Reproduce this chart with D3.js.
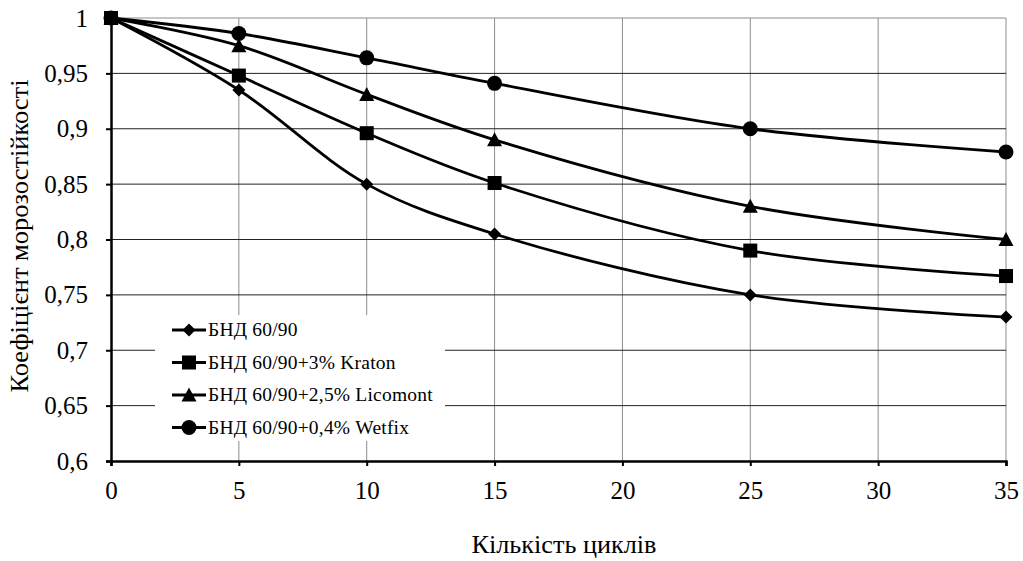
<!DOCTYPE html>
<html>
<head>
<meta charset="utf-8">
<script src="https://cdn.jsdelivr.net/npm/d3@7"></script>
<style>
    body { margin: 0; background: #fff; }
</style>
</head>
<body>
<svg width="1023" height="561"></svg>
<script>
// дані з графіка
const cycles = [0, 5, 10, 15, 25, 35];
const xTicks = [0, 5, 10, 15, 20, 25, 30, 35];
const yTicks = [0.6, 0.65, 0.7, 0.75, 0.8, 0.85, 0.9, 0.95, 1];
const seriesNames = ["БНД 60/90", "БНД 60/90+3% Kraton", "БНД 60/90+2,5% Licomont", "БНД 60/90+0,4% Wetfix"];
const bnd = [1, 0.935, 0.85, 0.805, 0.75, 0.73];
const kraton = [1, 0.948, 0.896, 0.851, 0.79, 0.767];
const licomont = [1, 0.975, 0.931, 0.89, 0.83, 0.80];
const wetfix = [1, 0.986, 0.964, 0.941, 0.90, 0.879];
const markers = ["diamond", "square", "triangle", "circle"];

const FONT = "'Liberation Serif', 'Times New Roman', serif";

const svg = d3.select("svg");
const margin = {left: 111, right: 17, top: 18, bottom: 100};
const width = +svg.attr("width"), height = +svg.attr("height");

const x = d3.scaleLinear().domain([0, 35]).range([margin.left, width - margin.right]);
const y = d3.scaleLinear().domain([0.6, 1]).range([height - margin.bottom, margin.top]);

const fmt = d => String(+d.toFixed(2)).replace(".", ",");

// сітка
svg.append("g")
    .selectAll("line")
    .data(xTicks.slice(1))
    .join("line")
    .attr("x1", d => x(d)).attr("x2", d => x(d))
    .attr("y1", y(0.6)).attr("y2", y(1))
    .attr("stroke", "#8c8c8c").attr("stroke-width", 1);

svg.append("g")
    .selectAll("line")
    .data(yTicks.slice(1))
    .join("line")
    .attr("x1", x(0)).attr("x2", x(35))
    .attr("y1", d => y(d)).attr("y2", d => y(d))
    .attr("stroke", d => d === 1 ? "#8c8c8c" : "#222").attr("stroke-width", 1);

// осі
const xAxis = svg.append("g")
    .attr("transform", `translate(0,${y(0.6)})`)
    .call(d3.axisBottom(x).tickValues(xTicks).tickSize(5).tickPadding(15).tickFormat(d => d));
const yAxis = svg.append("g")
    .attr("transform", `translate(${x(0)},0)`)
    .call(d3.axisLeft(y).tickValues(yTicks).tickSize(5).tickPadding(18).tickFormat(fmt));

[xAxis, yAxis].forEach(a => {
    a.attr("font-family", null).attr("font-size", null);
    a.select(".domain").attr("stroke", "#000").attr("stroke-width", 2.5);
    a.selectAll(".tick line").attr("stroke", "#000").attr("stroke-width", 2);
    a.selectAll("text").style("font-family", FONT).style("font-size", "25px");
});

svg.append("text")
    .attr("x", 564).attr("y", 553)
    .attr("text-anchor", "middle")
    .attr("textLength", 185).attr("lengthAdjust", "spacingAndGlyphs")
    .style("font-family", FONT)
    .style("font-size", "25px")
    .text("Кількість циклів");

svg.append("text")
    .attr("transform", "translate(28,236) rotate(-90)")
    .attr("text-anchor", "middle")
    .attr("textLength", 313).attr("lengthAdjust", "spacingAndGlyphs")
    .style("font-family", FONT)
    .style("font-size", "25px")
    .text("Коефіцієнт морозостійкості");

// маркери
function drawMarker(g, type) {
    if (type === "diamond") {
        g.append("path").attr("d", "M0,-6.5L6.5,0L0,6.5L-6.5,0Z");
    } else if (type === "square") {
        g.append("rect").attr("x", -7).attr("y", -7).attr("width", 14).attr("height", 14);
    } else if (type === "triangle") {
        g.append("path").attr("d", "M0,-7.5L7.5,6.5L-7.5,6.5Z");
    } else {
        g.append("circle").attr("r", 7.5);
    }
    g.attr("fill", "#000");
}

const data = [bnd, kraton, licomont, wetfix];
const line = d3.line()
    .x((d, i) => x(cycles[i]))
    .y(d => y(d))
    .curve(d3.curveCatmullRom.alpha(0.5));

data.forEach((vals, k) => {
    svg.append("path")
        .attr("d", line(vals))
        .attr("fill", "none")
        .attr("stroke", "#000")
        .attr("stroke-width", 2.8);
    vals.forEach((v, i) => {
        const g = svg.append("g").attr("transform", `translate(${x(cycles[i])},${y(v)})`);
        drawMarker(g, markers[k]);
    });
});

// легенда
const legend = svg.append("g").attr("transform", "translate(155,315)");
legend.append("rect")
    .attr("width", 290).attr("height", 126)
    .attr("fill", "#fff");
seriesNames.forEach((name, k) => {
    const ly = 15 + k * 32.5;
    legend.append("line")
        .attr("x1", 17).attr("x2", 51)
        .attr("y1", ly).attr("y2", ly)
        .attr("stroke", "#000").attr("stroke-width", 2.8);
    const g = legend.append("g").attr("transform", `translate(34,${ly})`);
    drawMarker(g, markers[k]);
    legend.append("text")
        .attr("x", 53).attr("y", ly + 6)
        .style("font-family", FONT)
        .style("font-size", "19.5px")
        .style("letter-spacing", "0.2px")
        .text(name);
});
</script>
</body>
</html>
